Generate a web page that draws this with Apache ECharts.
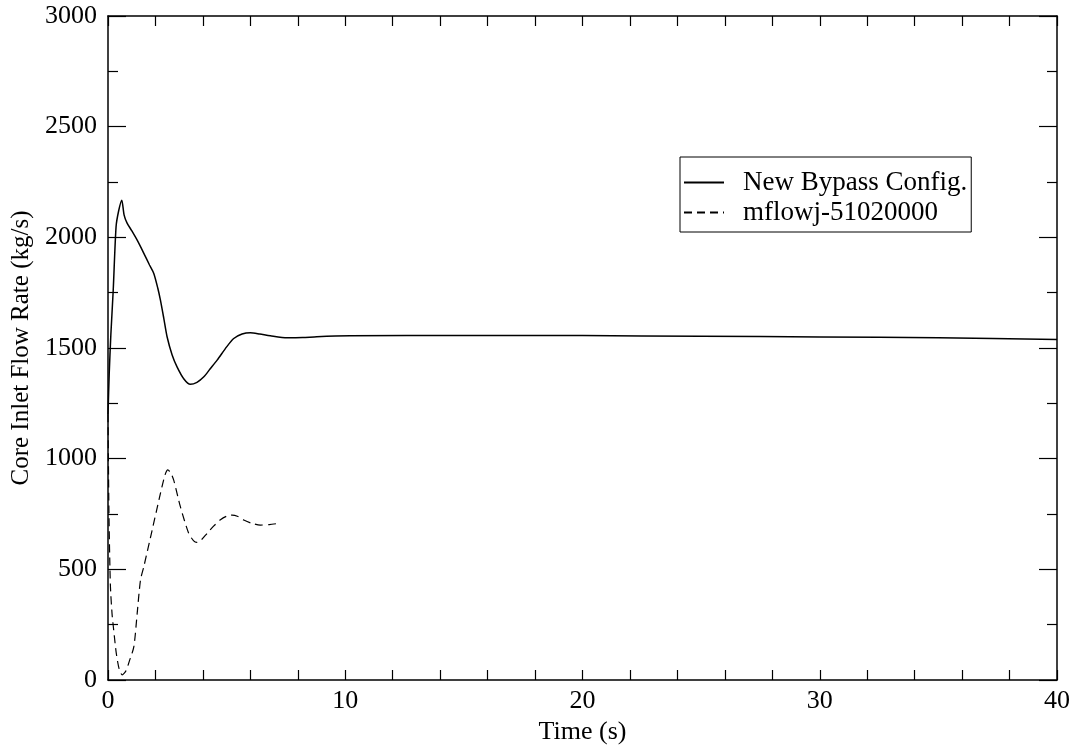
<!DOCTYPE html>
<html>
<head>
<meta charset="utf-8">
<script src="https://cdn.jsdelivr.net/npm/echarts@6/dist/echarts.min.js"></script>
<style>html,body{margin:0;padding:0;background:#fff}#c{width:1077px;height:746px}</style>
</head>
<body>
<div id="c"></div>
<script>
var seriesNames = ['New Bypass Config.', 'mflowj-51020000'];
var newBypassTime = [0,0.05,0.12,0.22,0.34,0.45,0.58,0.68,0.8,1.0,1.23,1.5,1.75,1.93,2.1,2.21,2.35,2.49,2.7,2.91,3.2,3.47,3.75,4.04,4.3,4.6,5.0,5.3,5.65,6.0,6.4,6.84,7.55,8.2,8.8,10.2,15,20,25,30,35,40];
var newBypassFlow = [1200,1380,1560,1761,2048,2120,2168,2100,2065,2030,1987,1930,1875,1837,1770,1716,1635,1551,1470,1415,1360,1336,1345,1370,1405,1445,1505,1543,1563,1569,1563,1555,1546,1547,1551,1555,1557,1556,1553,1550,1546,1538];
var mflowTime = [0,0.04,0.1,0.17,0.24,0.35,0.47,0.6,0.75,0.9,1.09,1.23,1.37,1.51,1.86,2.21,2.4,2.52,2.65,2.77,3.05,3.4,3.6,3.75,3.95,4.18,4.45,4.74,5.0,5.23,5.45,5.72,6.05,6.42,6.8,7.2];
var mflowFlow = [1200,754,430,300,226,120,50,23,40,85,151,301,452,512,677,843,925,949,935,903,783,663,630,622,635,663,695,724,740,745,740,723,708,700,702,708];
var xTicks = [0,10,20,30,40];
var yTicks = [0,500,1000,1500,2000,2500,3000];

function pairs(t, v){ return t.map(function(x,i){return [x, v[i]];}); }

var font = 'Liberation Serif';
var fs = 26;
var chart = echarts.init(document.getElementById('c'));
function baseX(){ return {
  type:'value', min:xTicks[0], max:xTicks[xTicks.length-1], interval:xTicks[1]-xTicks[0],
  axisLine:{show:true, onZero:false, lineStyle:{color:'#000', width:1.5}},
  axisTick:{show:true, inside:true, length:10, lineStyle:{color:'#000', width:1.2}},
  minorTick:{show:true, splitNumber:5, length:10, lineStyle:{color:'#000', width:1.2}},
  splitLine:{show:false}
};}
function baseY(){ return {
  type:'value', min:yTicks[0], max:yTicks[yTicks.length-1], interval:yTicks[1]-yTicks[0],
  axisLine:{show:true, onZero:false, lineStyle:{color:'#000', width:1.5}},
  axisTick:{show:true, inside:true, length:18, lineStyle:{color:'#000', width:1.2}},
  minorTick:{show:true, splitNumber:2, length:10, lineStyle:{color:'#000', width:1.2}},
  splitLine:{show:false}
};}
var plain = function(v){ return String(v); };
chart.setOption({
  animation:false,
  backgroundColor:'#fff',
  grid:{left:108, right:20, top:16, bottom:66, containLabel:false, outerBoundsMode:'none'},
  legend:{
    orient:'vertical', left:680, top:157,
    data:seriesNames,
    backgroundColor:'#fff', borderColor:'#000', borderWidth:1, borderRadius:0,
    padding:[12,4,6,3], itemGap:3, itemWidth:40, itemHeight:14,
    itemStyle:{opacity:0},
    textStyle:{fontFamily:font, fontSize:27, color:'#000', padding:[0,0,0,14]}
  },
  xAxis:[
    Object.assign(baseX(), {position:'bottom', name:'Time (s)', nameLocation:'middle', nameGap:29,
      nameTextStyle:{fontFamily:font, fontSize:fs, color:'#000'},
      axisLabel:{show:true, fontFamily:font, fontSize:fs, color:'#000', margin:8, formatter:plain}}),
    Object.assign(baseX(), {position:'top', axisLabel:{show:false}})
  ],
  yAxis:[
    Object.assign(baseY(), {position:'left', name:'Core Inlet Flow Rate (kg/s)', nameLocation:'middle', nameGap:72,
      nameTextStyle:{fontFamily:font, fontSize:25, color:'#000'},
      axisLabel:{show:true, fontFamily:font, fontSize:fs, color:'#000', margin:11, formatter:plain}}),
    Object.assign(baseY(), {position:'right', axisLabel:{show:false}})
  ],
  series:[
    {name:seriesNames[0], type:'line', data:pairs(newBypassTime, newBypassFlow), symbol:'none', showSymbol:false, smooth:0.25,
      lineStyle:{color:'#000', width:1.5, type:'solid'}, itemStyle:{color:'#000'}},
    {name:seriesNames[1], type:'line', data:pairs(mflowTime, mflowFlow), symbol:'none', showSymbol:false, smooth:0.25,
      lineStyle:{color:'#000', width:1.2, type:[8,5]}, itemStyle:{color:'#000'}}
  ]
});
</script>
</body>
</html>
